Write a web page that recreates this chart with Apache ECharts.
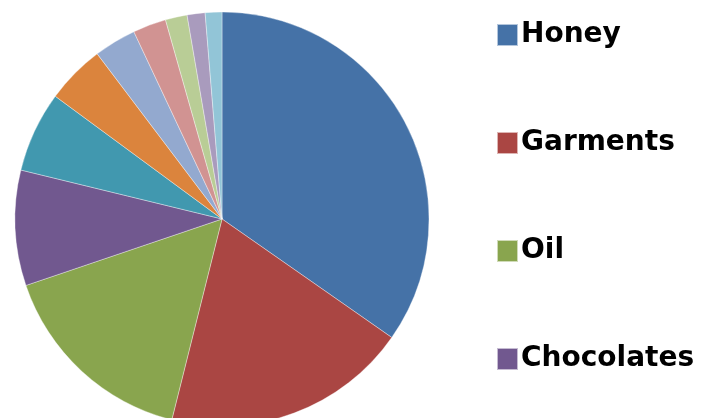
<!DOCTYPE html>
<html>
<head>
<meta charset="utf-8">
<script src="https://cdn.jsdelivr.net/npm/echarts@6/dist/echarts.min.js"></script>
<style>
  html, body { margin: 0; padding: 0; background: #fff; }
  #chart { width: 701px; height: 418px; }
</style>
</head>
<body>
<div id="chart"></div>
<script>
// Share of each product (percent), clockwise from 12 o'clock
const categories = ['Honey', 'Garments', 'Oil', 'Chocolates',
  'Category 5', 'Category 6', 'Category 7', 'Category 8',
  'Category 9', 'Category 10', 'Category 11'];
const values = [34.7, 19.2, 15.9, 9.0, 6.3, 4.6, 3.3, 2.6, 1.7, 1.4, 1.3];
const legendNames = ['Honey', 'Garments', 'Oil', 'Chocolates'];
const colors = ['#4572A7', '#AA4643', '#89A54E', '#71588F', '#4198AF',
  '#DB843D', '#93A9CF', '#D19392', '#B9CD96', '#A99BBD', '#92C5D7'];

const chart = echarts.init(document.getElementById('chart'), null, { renderer: 'canvas' });
chart.setOption({
  animation: false,
  color: colors,
  legend: {
    data: legendNames,
    orient: 'vertical',
    left: 491,
    top: 16,
    itemWidth: 21,
    itemHeight: 22,
    itemGap: 80,
    icon: 'rect',
    selectedMode: false,
    textStyle: {
      fontFamily: 'DejaVu Sans',
      fontWeight: 'bold',
      fontSize: 28,
      color: '#000',
      lineHeight: 22,
      height: 22,
      padding: [0, 0, 0, -2]
    }
  },
  series: [{
    type: 'pie',
    center: [222, 219],
    radius: 207,
    startAngle: 90,
    clockwise: true,
    label: { show: false },
    labelLine: { show: false },
    emphasis: { disabled: true },
    itemStyle: { borderColor: 'rgba(255,255,255,0.6)', borderWidth: 0.6 },
    data: categories.map((name, i) => ({ name: name, value: values[i] }))
  }]
});
</script>
</body>
</html>
